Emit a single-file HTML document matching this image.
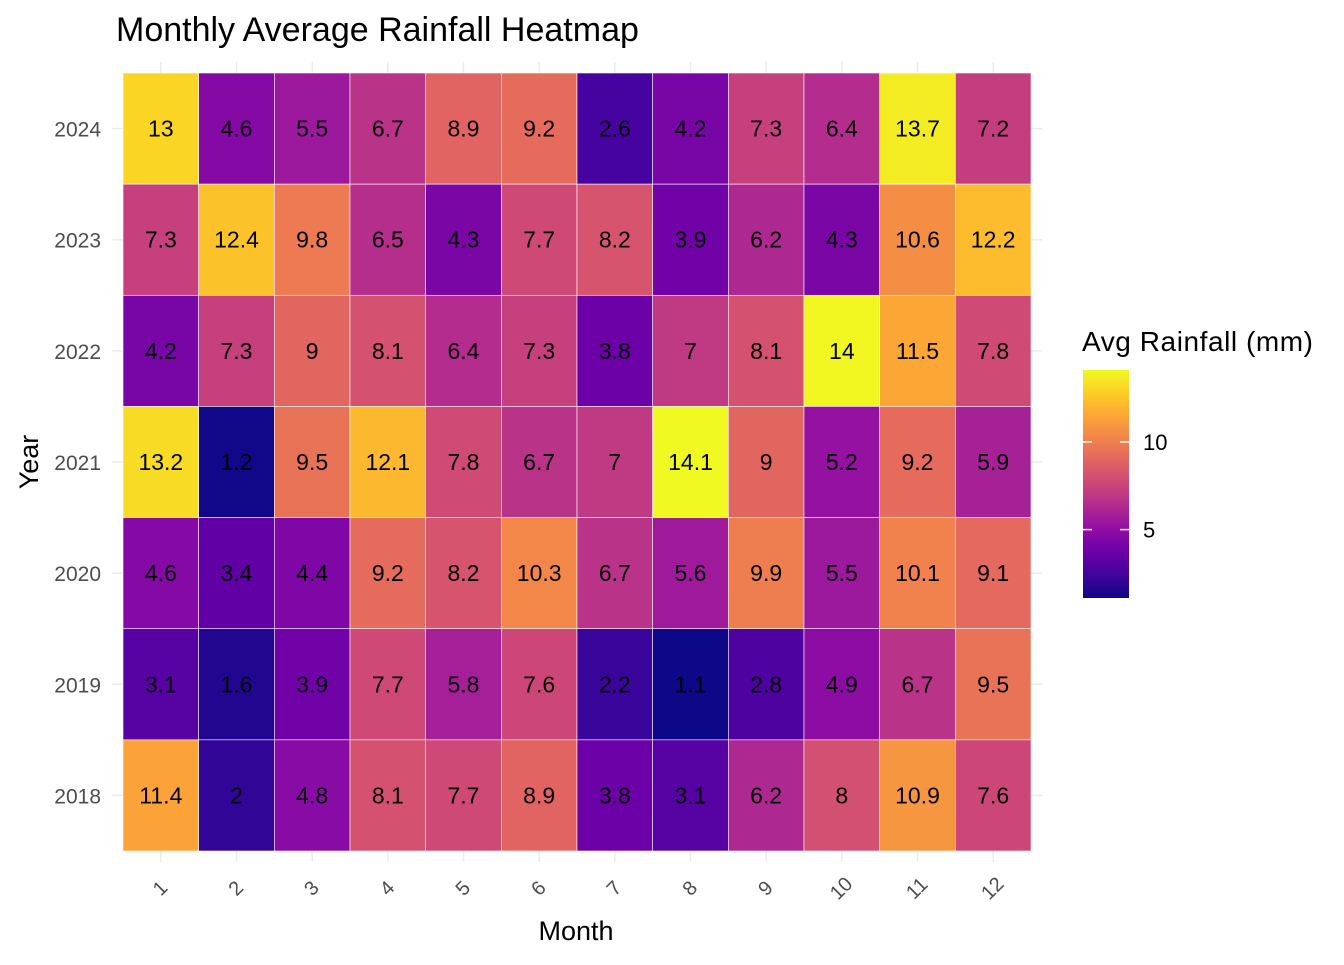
<!DOCTYPE html>
<html><head><meta charset="utf-8">
<style>
body{margin:0;background:#fff;}
svg text{font-family:"Liberation Sans",Arial,sans-serif;}
</style></head>
<body>
<svg id="chart" width="1344" height="960" xmlns="http://www.w3.org/2000/svg">
<text x="116" y="41" font-size="34" fill="#000">Monthly Average Rainfall Heatmap</text>
<g id="grid"></g>
<g id="tiles"></g>
<g id="xaxis"></g>
<g id="yaxis"></g>
<text x="576" y="940" font-size="27" text-anchor="middle">Month</text>
<text transform="translate(38,462) rotate(-90)" font-size="27" text-anchor="middle">Year</text>
<g id="legend">
<text x="1082" y="351" font-size="28" textLength="231">Avg Rainfall (mm)</text>
<defs><linearGradient id="grad" x1="0" y1="1" x2="0" y2="0"></linearGradient></defs>
<rect x="1083" y="370" width="46" height="228" fill="url(#grad)"/>
<g id="legticks"></g>
</g>
</svg>
<script>
const months = ["1","2","3","4","5","6","7","8","9","10","11","12"];
const years = ["2024","2023","2022","2021","2020","2019","2018"];
const rain2024 = [13,4.6,5.5,6.7,8.9,9.2,2.6,4.2,7.3,6.4,13.7,7.2];
const rain2023 = [7.3,12.4,9.8,6.5,4.3,7.7,8.2,3.9,6.2,4.3,10.6,12.2];
const rain2022 = [4.2,7.3,9,8.1,6.4,7.3,3.8,7,8.1,14,11.5,7.8];
const rain2021 = [13.2,1.2,9.5,12.1,7.8,6.7,7,14.1,9,5.2,9.2,5.9];
const rain2020 = [4.6,3.4,4.4,9.2,8.2,10.3,6.7,5.6,9.9,5.5,10.1,9.1];
const rain2019 = [3.1,1.6,3.9,7.7,5.8,7.6,2.2,1.1,2.8,4.9,6.7,9.5];
const rain2018 = [11.4,2,4.8,8.1,7.7,8.9,3.8,3.1,6.2,8,10.9,7.6];
const legendTicks = [5,10];
const rows = [rain2024,rain2023,rain2022,rain2021,rain2020,rain2019,rain2018];

const NS="http://www.w3.org/2000/svg";
function mk(tag,attrs,parent){const e=document.createElementNS(NS,tag);for(const k in attrs)e.setAttribute(k,attrs[k]);parent.appendChild(e);return e;}
const X0=123,X1=1031,Y0=73,Y1=851;
const cw=(X1-X0)/months.length, ch=(Y1-Y0)/years.length;
const xPos=i=>X0+i*cw, yPos=j=>Y0+j*ch;
const all=rows.flat(); const vmin=Math.min(...all), vmax=Math.max(...all);
const stops=["#0d0887","#41049d","#6a00a8","#8f0da4","#b12a90","#cc4778","#e16462","#f2844b","#fca636","#fcce25","#f0f921"];
function hex(h){return [1,3,5].map(i=>parseInt(h.substr(i,2),16));}
function color(v){let t=(v-vmin)/(vmax-vmin);t=Math.max(0,Math.min(1,t))*10;const i=Math.min(9,Math.floor(t)),f=t-i;const a=hex(stops[i]),b=hex(stops[i+1]);return "rgb("+a.map((c,k)=>Math.round(c+(b[k]-c)*f)).join(",")+")";}
const grad=document.getElementById('grad');
stops.forEach((s,i)=>mk('stop',{offset:(i*10)+'%','stop-color':s},grad));
const grid=document.getElementById('grid');
months.forEach((m,i)=>{const l=mk('line',{x1:xPos(i)+cw/2,x2:xPos(i)+cw/2,y1:62,y2:862,stroke:'#ebebeb','stroke-width':1.5},grid);

});
years.forEach((y,j)=>{const l=mk('line',{x1:112,x2:1042,y1:yPos(j)+ch/2,y2:yPos(j)+ch/2,stroke:'#ebebeb','stroke-width':1.5},grid);

});
const tiles=document.getElementById('tiles');
rows.forEach((row,j)=>row.forEach((v,i)=>{
const r=mk('rect',{x:xPos(i),y:yPos(j),width:cw,height:ch,fill:color(v),stroke:'#fff','stroke-width':0.6},tiles);


const t=mk('text',{x:xPos(i)+cw/2,y:yPos(j)+ch/2+8,'font-size':23,'text-anchor':'middle',fill:'#000'},tiles);
t.textContent=String(v);


}));
const xa=document.getElementById('xaxis');
months.forEach((m,i)=>{const cx=xPos(i)+cw/2;const t=mk('text',{transform:`translate(${cx+4},${893}) rotate(-45)`,'font-size':20,fill:'#4d4d4d','text-anchor':'middle'},xa);t.textContent=m;

});
const ya=document.getElementById('yaxis');
years.forEach((y,j)=>{const t=mk('text',{x:101,y:yPos(j)+ch/2+8,'font-size':21,fill:'#4d4d4d','text-anchor':'end'},ya);t.textContent=y;

});
const lt=document.getElementById('legticks');
const ly=v=>598-(v-vmin)/(vmax-vmin)*228;
legendTicks.forEach(v=>{const y=ly(v);
const a=mk('line',{x1:1083,x2:1092,y1:y,y2:y,stroke:'#fff','stroke-width':1.5},lt);


const b=mk('line',{x1:1120,x2:1129,y1:y,y2:y,stroke:'#fff','stroke-width':1.5},lt);


const t=mk('text',{x:1143,y:y+8,'font-size':22,fill:'#000'},lt);t.textContent=v;

});
</script>
</body></html>
